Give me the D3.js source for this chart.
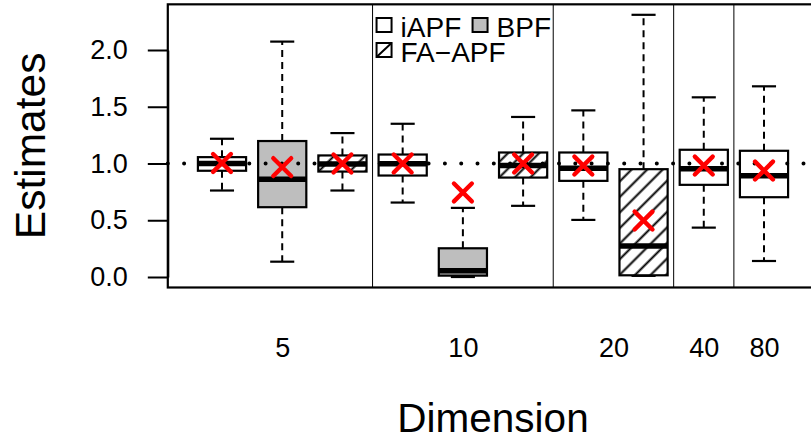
<!DOCTYPE html>
<html>
<head>
<meta charset="utf-8">
<title>Estimates by dimension</title>
<script src="https://d3js.org/d3.v7.min.js"></script>
<style>
  body { margin: 0; background: #fff; }
  svg { display: block; font-family: "Liberation Sans", Arial, sans-serif; }
</style>
</head>
<body>
<svg width="811" height="440"></svg>
<script>
// one entry per box, left to right
const dims    = [5, 5, 5, 10, 10, 10, 20, 20, 40, 80];
const methods = ["iAPF", "BPF", "FA-APF", "iAPF", "BPF", "FA-APF", "iAPF", "FA-APF", "iAPF", "iAPF"];
const whiskLo = [0.762, 0.135, 0.762, 0.656, 0.000, 0.627, 0.503, 0.010, 0.435, 0.141];
const q1      = [0.936, 0.615, 0.929, 0.894, 0.012, 0.876, 0.847, 0.015, 0.812, 0.703];
const medians = [1.000, 0.862, 0.995, 0.997, 0.056, 0.982, 0.959, 0.274, 0.953, 0.891];
const q3      = [1.056, 1.198, 1.071, 1.079, 0.253, 1.097, 1.097, 0.950, 1.121, 1.112];
const whiskHi = [1.218, 2.074, 1.268, 1.350, 0.609, 1.410, 1.468, 2.310, 1.583, 1.680];
const means   = [1.005, 0.968, 1.000, 1.000, 0.745, 1.000, 0.982, 0.497, 0.982, 0.938];

const yTicks = [0, 0.5, 1, 1.5, 2];
const dimLabels = ["5", "10", "20", "40", "80"];
const refValue = 1;
const legendNames = ["iAPF", "BPF", "FA\u2212APF"];

const svg = d3.select("svg");
const pos = dims.map((d, i) => i + 1);

// R style limits: 4% padding around [0.5, 10.5] and the data range
const x = d3.scaleLinear().domain([1, 10]).range([222, 764]);
const y = d3.scaleLinear().domain([0, 2]).range([277, 50]);
const xLim = [0.1, 10.9];
const yLim = [-0.0924, 2.4024];

const fills = { "iAPF": "#ffffff", "BPF": "#bebebe", "FA-APF": "url(#hatch)" };

const defs = svg.append("defs");
const pat = defs.append("pattern")
  .attr("id", "hatch")
  .attr("patternUnits", "userSpaceOnUse")
  .attr("width", 11).attr("height", 11)
  .attr("patternTransform", "rotate(45)");
pat.append("rect").attr("width", 11).attr("height", 11).attr("fill", "#fff");
pat.append("line")
  .attr("x1", 5.5).attr("y1", 0).attr("x2", 5.5).attr("y2", 11)
  .attr("stroke", "#000").attr("stroke-width", 2);

// group separators between dimensions
const seps = [];
for (let i = 1; i < dims.length; i++) if (dims[i] !== dims[i - 1]) seps.push(i + 0.5);

const g = svg.append("g");

// whiskers
g.selectAll(".whisk").data(pos).join("g").attr("class", "whisk")
  .each(function (p, i) {
    const w = d3.select(this);
    [[q3[i], whiskHi[i]], [q1[i], whiskLo[i]]].forEach(([a, b]) => {
      w.append("line")
        .attr("x1", x(p)).attr("x2", x(p))
        .attr("y1", y(a)).attr("y2", y(b))
        .attr("stroke", "#000").attr("stroke-width", 2)
        .attr("stroke-dasharray", "7 5");
      w.append("line")
        .attr("x1", x(p - 0.2)).attr("x2", x(p + 0.2))
        .attr("y1", y(b)).attr("y2", y(b))
        .attr("stroke", "#000").attr("stroke-width", 2.2);
    });
  });

// boxes
g.selectAll(".box").data(pos).join("rect").attr("class", "box")
  .attr("x", p => x(p - 0.4))
  .attr("width", p => x(p + 0.4) - x(p - 0.4))
  .attr("y", (p, i) => y(q3[i]))
  .attr("height", (p, i) => y(q1[i]) - y(q3[i]))
  .attr("fill", (p, i) => fills[methods[i]])
  .attr("stroke", "#000").attr("stroke-width", 2.2);

// medians
g.selectAll(".med").data(pos).join("line").attr("class", "med")
  .attr("x1", p => x(p - 0.4)).attr("x2", p => x(p + 0.4))
  .attr("y1", (p, i) => y(medians[i])).attr("y2", (p, i) => y(medians[i]))
  .attr("stroke", "#000").attr("stroke-width", 5.5);

// dotted reference line at 1
g.append("line")
  .attr("x1", x(xLim[0])).attr("x2", x(xLim[1]))
  .attr("y1", y(refValue)).attr("y2", y(refValue))
  .attr("stroke", "#000").attr("stroke-width", 4)
  .attr("stroke-linecap", "round")
  .attr("stroke-dasharray", "0 16.3");

// vertical separators
g.selectAll(".sep").data(seps).join("line").attr("class", "sep")
  .attr("x1", d => x(d)).attr("x2", d => x(d))
  .attr("y1", y(yLim[1])).attr("y2", y(yLim[0]))
  .attr("stroke", "#000").attr("stroke-width", 1);

// means
g.selectAll(".mean").data(pos).join("path").attr("class", "mean")
  .attr("transform", (p, i) => `translate(${x(p)},${y(means[i])})`)
  .attr("d", d3.symbol(d3.symbolTimes, 210))
  .attr("fill", "none")
  .attr("stroke", "#ff0000").attr("stroke-width", 4.4)
  .attr("stroke-linecap", "round");

// frame
svg.append("rect")
  .attr("x", x(xLim[0])).attr("y", y(yLim[1]))
  .attr("width", x(xLim[1]) - x(xLim[0]))
  .attr("height", y(yLim[0]) - y(yLim[1]))
  .attr("fill", "none").attr("stroke", "#000").attr("stroke-width", 2.2);

// y axis
const yAxis = svg.append("g")
  .attr("transform", `translate(${x(xLim[0])},0)`)
  .call(d3.axisLeft(y).tickValues(yTicks).tickFormat(d3.format(".1f"))
    .tickSize(20).tickSizeOuter(0).tickPadding(20));
yAxis.selectAll("line").attr("stroke-width", 2);
yAxis.select(".domain").attr("stroke-width", 2);
yAxis.selectAll("text")
  .attr("font-family", "Liberation Sans, Arial, sans-serif")
  .attr("font-size", 27).attr("fill", "#000");

// x axis: labels only, at group centres
const groupCenters = dimLabels.map(l => d3.mean(pos.filter((p, i) => String(dims[i]) === l)));
const xAxis = svg.append("g")
  .attr("transform", `translate(0,${y(yLim[0])})`)
  .call(d3.axisBottom(x).tickValues(groupCenters)
    .tickFormat((d, i) => dimLabels[i]).tickSize(0).tickPadding(50));
xAxis.select(".domain").remove();
xAxis.selectAll("text")
  .attr("font-family", "Liberation Sans, Arial, sans-serif")
  .attr("font-size", 27).attr("fill", "#000");

// axis titles
svg.append("text")
  .attr("x", x(5.5)).attr("y", 432)
  .attr("text-anchor", "middle")
  .attr("font-size", 40.5).attr("fill", "#000")
  .text("Dimension");
svg.append("text")
  .attr("transform", `translate(45,${y((yLim[0] + yLim[1]) / 2)}) rotate(-90)`)
  .attr("text-anchor", "middle")
  .attr("font-size", 42.5).attr("fill", "#000")
  .text("Estimates");

// legend
const leg = svg.append("g").attr("transform", `translate(${x(seps[0]) + 4},18)`);
const legItems = [
  { name: legendNames[0], fill: "#ffffff", dx: 0, dy: 0 },
  { name: legendNames[1], fill: "#bebebe", dx: 96, dy: 0 },
  { name: legendNames[2], fill: "#ffffff", dx: 0, dy: 25, hatch: true }
];
legItems.forEach(it => {
  const li = leg.append("g").attr("transform", `translate(${it.dx},${it.dy})`);
  li.append("rect").attr("width", 15).attr("height", 14)
    .attr("fill", it.fill).attr("stroke", "#000").attr("stroke-width", 2);
  if (it.hatch) {
    li.append("line").attr("x1", 0).attr("y1", 14).attr("x2", 15).attr("y2", 0)
      .attr("stroke", "#000").attr("stroke-width", 2);
  }
  li.append("text").attr("x", 24).attr("y", 18.5)
    .attr("font-size", 28).attr("fill", "#000").text(it.name);
});
</script>
</body>
</html>
